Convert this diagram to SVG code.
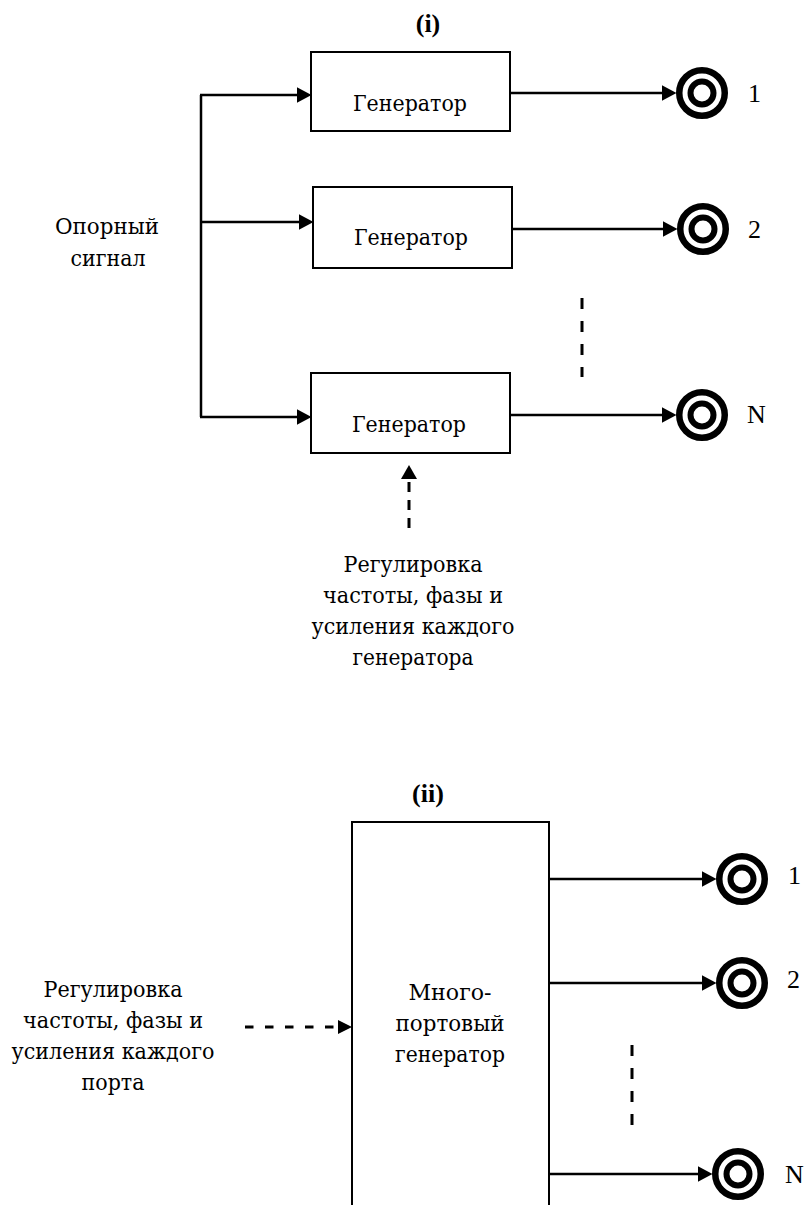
<svg xmlns="http://www.w3.org/2000/svg" width="808" height="1205" viewBox="0 0 808 1205">
  <style>
    .txt { font-family: "Liberation Serif", "DejaVu Serif", serif; font-size: 26px; fill: #000; }
    .cyr { font-family: "DejaVu Serif", "Liberation Serif", serif; font-size: 23px; fill: #000; }
    .ttl { font-family: "Liberation Serif", "Times New Roman", serif; font-size: 26px; font-weight: bold; fill: #000; }
    .box { fill: #fff; stroke: #000; stroke-width: 2; }
    .wire { fill: none; stroke: #000; stroke-width: 2.5; }
    .dash { fill: none; stroke: #000; stroke-width: 3; }
    .ring { fill: none; stroke: #000; }
  </style>
  <defs>
    <marker id="head" markerUnits="userSpaceOnUse" markerWidth="15" markerHeight="16" refX="0" refY="7.75" orient="auto">
      <path d="M0,0 L14.5,7.75 L0,15.5 z" fill="#000"/>
    </marker>
    <g id="port">
      <circle r="22.75" class="ring" stroke-width="6.5"/>
      <circle r="11.5" class="ring" stroke-width="6"/>
    </g>
  </defs>

  <rect width="808" height="1205" fill="#fff"/>

  <!-- (i) individual generators -->
  <text class="ttl" x="428" y="32" text-anchor="middle">(i)</text>

  <g id="ref-label">
    <text class="cyr" x="107" y="234" text-anchor="middle" textLength="104" lengthAdjust="spacingAndGlyphs">Опорный</text>
    <text class="cyr" x="108" y="266" text-anchor="middle" textLength="75" lengthAdjust="spacingAndGlyphs">сигнал</text>
  </g>

  <g id="gen1">
    <rect class="box" x="311" y="52" width="199" height="79"/>
    <text class="cyr" x="410" y="111" text-anchor="middle" textLength="114" lengthAdjust="spacingAndGlyphs">Генератор</text>
  </g>
  <g id="gen2">
    <rect class="box" x="313" y="187" width="199" height="81"/>
    <text class="cyr" x="411" y="245" text-anchor="middle" textLength="114" lengthAdjust="spacingAndGlyphs">Генератор</text>
  </g>
  <g id="gen3">
    <rect class="box" x="311" y="373" width="199" height="80"/>
    <text class="cyr" x="409" y="432" text-anchor="middle" textLength="114" lengthAdjust="spacingAndGlyphs">Генератор</text>
  </g>

  <g id="out1-i">
    <use href="#port" x="702" y="93"/>
    <text class="txt" x="748" y="102">1</text>
  </g>
  <g id="out2-i">
    <use href="#port" x="703" y="229"/>
    <text class="txt" x="748" y="238">2</text>
  </g>
  <g id="outN-i">
    <use href="#port" x="702" y="415"/>
    <text class="txt" x="747" y="423">N</text>
  </g>

  <g id="ctrl-label-i">
    <text class="cyr" x="413" y="572" text-anchor="middle" textLength="139" lengthAdjust="spacingAndGlyphs">Регулировка</text>
    <text class="cyr" x="413" y="603" text-anchor="middle" textLength="180" lengthAdjust="spacingAndGlyphs">частоты, фазы и</text>
    <text class="cyr" x="413" y="634" text-anchor="middle" textLength="203" lengthAdjust="spacingAndGlyphs">усиления каждого</text>
    <text class="cyr" x="413" y="665" text-anchor="middle" textLength="121" lengthAdjust="spacingAndGlyphs">генератора</text>
  </g>

  <!-- (ii) multi-port generator -->
  <text class="ttl" x="428" y="802" text-anchor="middle">(ii)</text>

  <g id="multiport">
    <path class="box" d="M352,1210 V822 H549 V1210"/>
    <text class="cyr" x="450" y="1000" text-anchor="middle" textLength="83" lengthAdjust="spacingAndGlyphs">Много-</text>
    <text class="cyr" x="450" y="1031" text-anchor="middle" textLength="109" lengthAdjust="spacingAndGlyphs">портовый</text>
    <text class="cyr" x="450" y="1062" text-anchor="middle" textLength="110" lengthAdjust="spacingAndGlyphs">генератор</text>
  </g>

  <g id="ctrl-label-ii">
    <text class="cyr" x="113" y="997" text-anchor="middle" textLength="139" lengthAdjust="spacingAndGlyphs">Регулировка</text>
    <text class="cyr" x="113" y="1028" text-anchor="middle" textLength="180" lengthAdjust="spacingAndGlyphs">частоты, фазы и</text>
    <text class="cyr" x="113" y="1059" text-anchor="middle" textLength="203" lengthAdjust="spacingAndGlyphs">усиления каждого</text>
    <text class="cyr" x="113" y="1090" text-anchor="middle" textLength="63" lengthAdjust="spacingAndGlyphs">порта</text>
  </g>

  <g id="out1-ii">
    <use href="#port" x="742" y="879"/>
    <text class="txt" x="788" y="884">1</text>
  </g>
  <g id="out2-ii">
    <use href="#port" x="742" y="983"/>
    <text class="txt" x="787" y="988">2</text>
  </g>
  <g id="outN-ii">
    <use href="#port" x="738" y="1174"/>
    <text class="txt" x="785" y="1183">N</text>
  </g>

  <!-- connectors -->
  <g id="connectors">
    <!-- reference signal trunk and branches -->
    <path class="wire" d="M201,95 V417"/>
    <path class="wire" d="M200,95 H297" marker-end="url(#head)"/>
    <path class="wire" d="M200,222 H299" marker-end="url(#head)"/>
    <path class="wire" d="M200,417 H297" marker-end="url(#head)"/>

    <!-- generator outputs -->
    <path class="wire" d="M510,93 H662" marker-end="url(#head)"/>
    <path class="wire" d="M512,229 H663" marker-end="url(#head)"/>
    <path class="wire" d="M510,415 H662" marker-end="url(#head)"/>

    <!-- continuation dots -->
    <path class="dash" d="M582,298 V377" stroke-dasharray="11 12"/>

    <!-- control input (i) -->
    <path class="dash" d="M409,528 V479" stroke-dasharray="10 8"/>
    <path d="M409,465 L417,479 L401,479 z" fill="#000"/>

    <!-- multi-port outputs -->
    <path class="wire" d="M549,879 H702" marker-end="url(#head)"/>
    <path class="wire" d="M549,983 H702" marker-end="url(#head)"/>
    <path class="wire" d="M549,1174 H698" marker-end="url(#head)"/>
    <path class="dash" d="M632,1045 V1125" stroke-dasharray="11 12"/>

    <!-- control input (ii) -->
    <path class="dash" d="M245,1027 H338" stroke-dasharray="8.5 11.5"/>
    <path d="M352,1027 L338,1020 L338,1034 z" fill="#000"/>
  </g>
</svg>
